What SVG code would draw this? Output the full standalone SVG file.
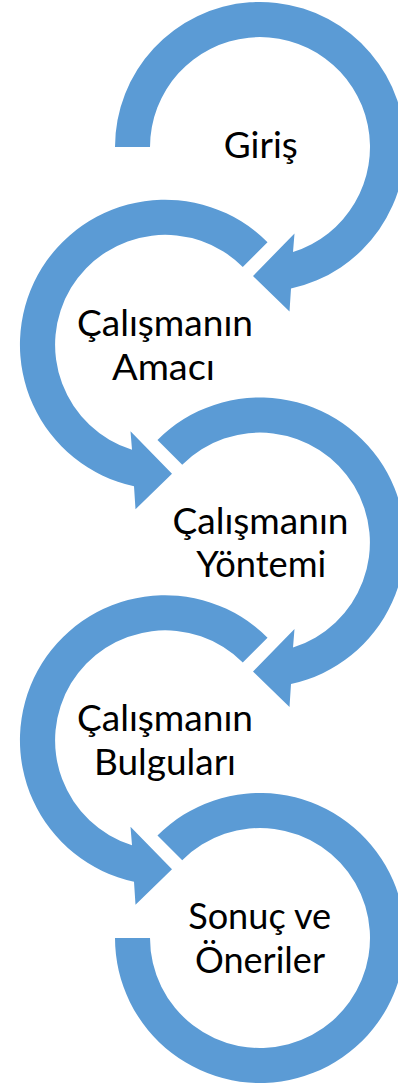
<svg xmlns="http://www.w3.org/2000/svg" width="398" height="1087" viewBox="0 0 398 1087">
<style>
.arc{fill:#5B9BD5;stroke:none}
.t{font-family:Lato,"Liberation Sans",sans-serif;font-size:36px;fill:#000;text-anchor:middle}
</style>
<rect width="398" height="1087" fill="#fff"/>
<g id="node-giris">
<path class="arc" d="M 115 147 A 145 145 0 1 1 291 288.6 L 289.5 311.5 L 253 276 L 294.5 233.5 L 293 252 A 110 110 0 1 0 150 147 Z"/>
<text class="t" x="260.8" y="158.3" textLength="74" lengthAdjust="spacingAndGlyphs">Giriş</text>
</g>
<g id="node-amaci">
<path class="arc" d="M 267.53 242.22 A 145 145 0 1 0 134 486.35 L 135.5 509.25 L 172 473.75 L 130.5 431.25 L 132 449.75 A 110 110 0 1 1 242.78 266.97 Z"/>
<text class="t" x="165" y="336" textLength="176" lengthAdjust="spacingAndGlyphs">Çalışmanın</text>
<text class="t" x="163.5" y="379.5" textLength="103" lengthAdjust="spacingAndGlyphs">Amacı</text>
</g>
<g id="node-yontemi">
<path class="arc" d="M 157.47 439.97 A 145 145 0 1 1 291 684.1 L 289.5 707 L 253 671.5 L 294.5 629 L 293 647.5 A 110 110 0 1 0 182.22 464.72 Z"/>
<text class="t" x="260.5" y="533.5" textLength="176" lengthAdjust="spacingAndGlyphs">Çalışmanın</text>
<text class="t" x="261.3" y="577" textLength="130" lengthAdjust="spacingAndGlyphs">Yöntemi</text>
</g>
<g id="node-bulgulari">
<path class="arc" d="M 267.53 637.72 A 145 145 0 1 0 134 881.85 L 135.5 904.75 L 172 869.25 L 130.5 826.75 L 132 845.25 A 110 110 0 1 1 242.78 662.47 Z"/>
<text class="t" x="165" y="731.25" textLength="176" lengthAdjust="spacingAndGlyphs">Çalışmanın</text>
<text class="t" x="165" y="774.75" textLength="142" lengthAdjust="spacingAndGlyphs">Bulguları</text>
</g>
<g id="node-sonuc">
<path class="arc" d="M 157.47 835.47 A 145 145 0 1 1 115 938 L 150 938 A 110 110 0 1 0 182.22 860.22 Z"/>
<text class="t" x="259.7" y="929" textLength="143" lengthAdjust="spacingAndGlyphs">Sonuç ve</text>
<text class="t" x="260" y="972.5" textLength="130" lengthAdjust="spacingAndGlyphs">Öneriler</text>
</g>
</svg>
